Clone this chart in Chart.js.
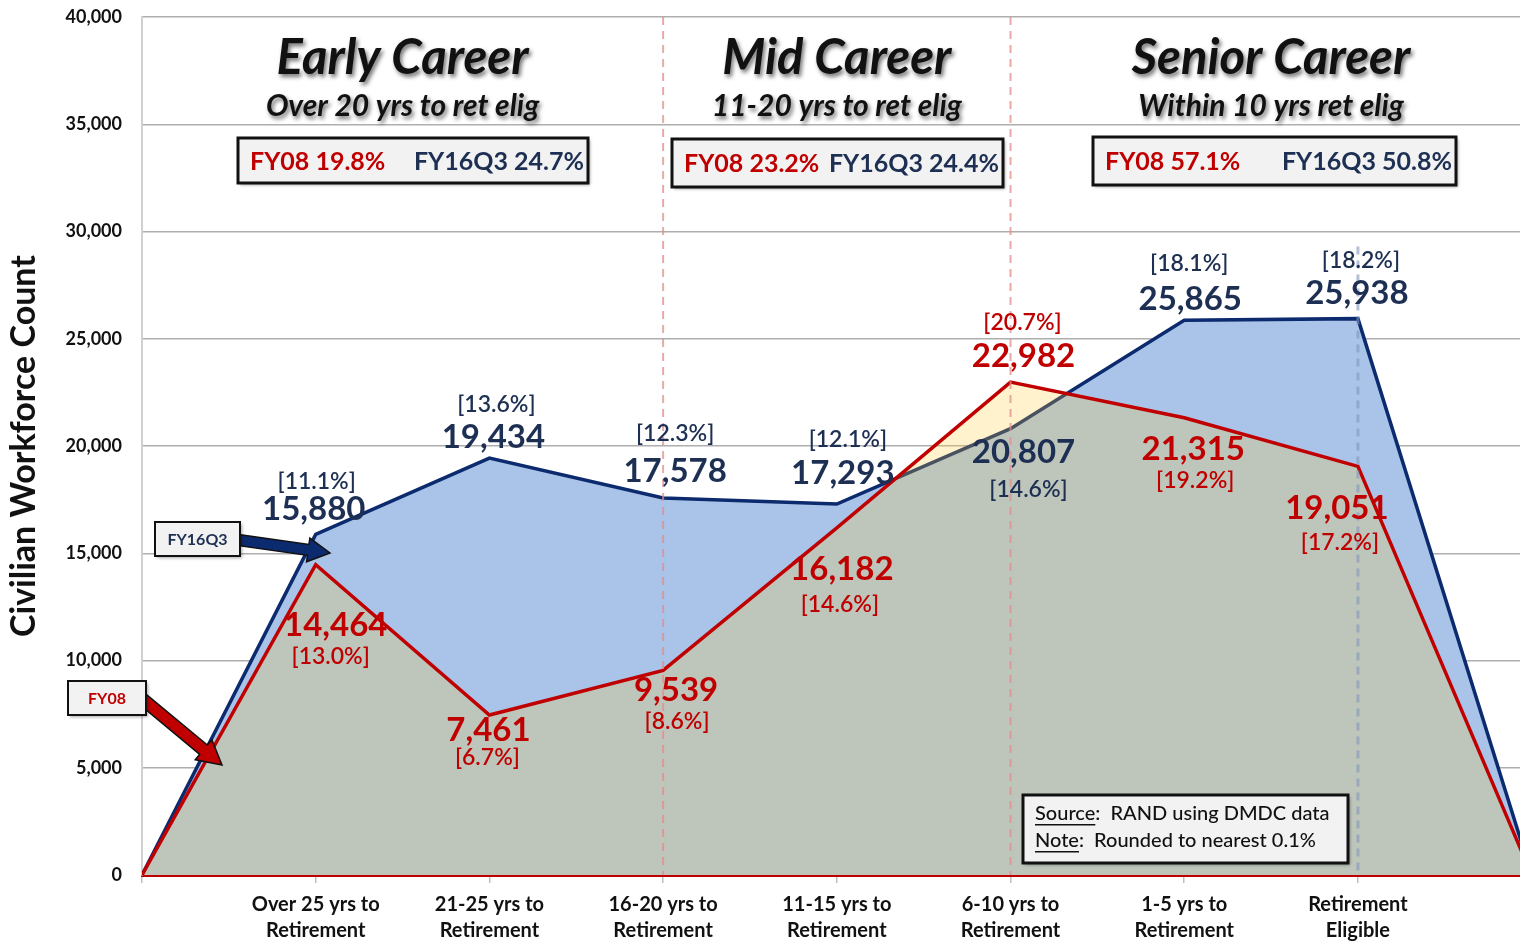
<!DOCTYPE html>
<html>
<head>
<meta charset="utf-8">
<script src="https://cdn.jsdelivr.net/npm/chart.js@4.4.1/dist/chart.umd.min.js"></script>
<style>
  html, body { margin: 0; padding: 0; background: #fff; }
  #wrap { width: 1520px; height: 942px; }
</style>
</head>
<body>
<div id="wrap"><canvas id="workforceChart"></canvas></div>
<script>
// categories on the x axis (positions 1..7), the area starts at 0 and closes at 8
var categories = [
  ['Over 25 yrs to', 'Retirement'],
  ['21-25 yrs to', 'Retirement'],
  ['16-20 yrs to', 'Retirement'],
  ['11-15 yrs to', 'Retirement'],
  ['6-10 yrs to', 'Retirement'],
  ['1-5 yrs to', 'Retirement'],
  ['Retirement', 'Eligible']
];
var positions = [0, 1, 2, 3, 4, 5, 6, 7, 8];
var fy16Values = [0, 15880, 19434, 17578, 17293, 20807, 25865, 25938, 0];
var fy08Values = [0, 14464, 7461, 9539, 16182, 22982, 21315, 19051, 0];
var fy16Pct = ['11.1%', '13.6%', '12.3%', '12.1%', '14.6%', '18.1%', '18.2%'];
var fy08Pct = ['13.0%', '6.7%', '8.6%', '14.6%', '20.7%', '19.2%', '17.2%'];

var groupTitles = ['Early Career', 'Mid Career', 'Senior Career'];
var groupSubtitles = ['Over 20 yrs to ret elig', '11-20 yrs to ret elig', 'Within 10 yrs ret elig'];
var groupFy08 = ['19.8%', '23.2%', '57.1%'];
var groupFy16 = ['24.7%', '24.4%', '50.8%'];

var yTicks = [0, 5000, 10000, 15000, 20000, 25000, 30000, 35000, 40000];

var NAVY = '#0c2a6e';
var NAVY_TEXT = '#1d2f52';
var RED = '#c00000';
var FONT = 'Lato, "Open Sans", sans-serif';

function toPoints(values) {
  return values.map(function (v, i) { return { x: positions[i], y: v }; });
}

// label offsets (px) from each point: [valueDx, valueDy, pctDx, pctDy]
var fy16Offsets = [
  [-2, -25, 1, -53], [4, -21, 7, -54], [12, -27, 12, -64], [6, -31, 11, -64],
  [13, 24, 18, 61], [6, -21, 5, -57], [-1, -25, 3, -58]
];
var fy08Offsets = [
  [20, 61, 15, 92], [-1, 15, -2, 43], [13, 20, 14, 51], [5, 41, 3, 77],
  [13, -26, 12, -59], [9, 32, 11, 63], [-21, 42, -18, 76]
];

function drawBox(ctx, x, y, w, h, lw) {
  ctx.save();
  ctx.shadowColor = 'rgba(0,0,0,0.35)';
  ctx.shadowBlur = 3;
  ctx.shadowOffsetX = 2;
  ctx.shadowOffsetY = 2;
  ctx.fillStyle = '#f2f2f2';
  ctx.fillRect(x, y, w, h);
  ctx.restore();
  ctx.strokeStyle = '#111';
  ctx.lineWidth = lw;
  ctx.strokeRect(x, y, w, h);
}

function drawArrow(ctx, x1, y1, x2, y2, shaft, headW, headL, color) {
  var ang = Math.atan2(y2 - y1, x2 - x1);
  var len = Math.hypot(x2 - x1, y2 - y1);
  ctx.save();
  ctx.translate(x1, y1);
  ctx.rotate(ang);
  ctx.beginPath();
  ctx.moveTo(0, -shaft / 2);
  ctx.lineTo(len - headL, -shaft / 2);
  ctx.lineTo(len - headL, -headW / 2);
  ctx.lineTo(len, 0);
  ctx.lineTo(len - headL, headW / 2);
  ctx.lineTo(len - headL, shaft / 2);
  ctx.lineTo(0, shaft / 2);
  ctx.closePath();
  ctx.fillStyle = color;
  ctx.fill();
  ctx.strokeStyle = '#111';
  ctx.lineWidth = 1.5;
  ctx.stroke();
  ctx.restore();
}

var overlayPlugin = {
  id: 'overlay',
  afterDatasetsDraw: function (chart) {
    var ctx = chart.ctx;
    var xs = chart.scales.x;
    var ys = chart.scales.y;
    var area = chart.chartArea;
    ctx.save();
    // section dividers
    ctx.setLineDash([8, 6]);
    ctx.lineWidth = 2;
    ctx.strokeStyle = 'rgba(226,140,140,0.75)';
    [3, 5].forEach(function (p) {
      var px = xs.getPixelForValue(p);
      ctx.beginPath();
      ctx.moveTo(px, area.top);
      ctx.lineTo(px, area.bottom);
      ctx.stroke();
    });
    ctx.strokeStyle = 'rgba(130,150,185,0.6)';
    ctx.lineWidth = 3;
    var p7 = xs.getPixelForValue(7);
    ctx.beginPath();
    ctx.moveTo(p7, ys.getPixelForValue(29300));
    ctx.lineTo(p7, area.bottom);
    ctx.stroke();
    ctx.restore();
  },
  afterDraw: function (chart) {
    var ctx = chart.ctx;
    var xs = chart.scales.x;
    var ys = chart.scales.y;
    ctx.save();
    ctx.textAlign = 'center';
    ctx.textBaseline = 'middle';

    // group headings
    var groupCenters = [1.5, 4, 6.5];
    var boxes = [[238, 138, 350, 45], [672, 139, 331, 48], [1093, 137, 363, 48]];
    groupTitles.forEach(function (t, i) {
      var cx = xs.getPixelForValue(groupCenters[i]);
      ctx.save();
      ctx.shadowColor = 'rgba(0,0,0,0.55)';
      ctx.shadowBlur = 4;
      ctx.shadowOffsetX = 2;
      ctx.shadowOffsetY = 3;
      ctx.fillStyle = '#111';
      ctx.font = 'italic 700 49px ' + FONT;
      ctx.fillText(t, cx, 58);
      ctx.font = 'italic 700 30px ' + FONT;
      ctx.fillText(groupSubtitles[i], cx, 106);
      ctx.restore();

      var b = boxes[i];
      drawBox(ctx, b[0], b[1], b[2], b[3], 3);
      ctx.font = '700 25px ' + FONT;
      ctx.textAlign = 'left';
      ctx.fillStyle = RED;
      ctx.fillText('FY08 ' + groupFy08[i], b[0] + 12, b[1] + b[3] / 2 + 1);
      ctx.textAlign = 'right';
      ctx.fillStyle = NAVY_TEXT;
      ctx.fillText('FY16Q3 ' + groupFy16[i], b[0] + b[2] - 4, b[1] + b[3] / 2 + 1);
      ctx.textAlign = 'center';
    });

    // point labels
    function drawLabels(values, pcts, offsets, color) {
      for (var i = 1; i <= 7; i++) {
        var px = xs.getPixelForValue(positions[i]);
        var py = ys.getPixelForValue(values[i]);
        var o = offsets[i - 1];
        ctx.fillStyle = color;
        ctx.font = '700 33px ' + FONT;
        ctx.fillText(values[i].toLocaleString('en-US'), px + o[0], py + o[1]);
        ctx.font = '600 23px ' + FONT;
        ctx.fillText('[' + pcts[i - 1] + ']', px + o[2], py + o[3]);
      }
    }
    drawLabels(fy16Values, fy16Pct, fy16Offsets, NAVY_TEXT);
    drawLabels(fy08Values, fy08Pct, fy08Offsets, RED);

    // series callouts
    drawArrow(ctx, 238, 540, 330, 553, 11, 24, 22, NAVY);
    drawBox(ctx, 155, 522, 85, 34, 2);
    ctx.font = '700 16px ' + FONT;
    ctx.fillStyle = NAVY_TEXT;
    ctx.fillText('FY16Q3', 197.5, 540);

    drawArrow(ctx, 140, 697, 222, 765, 12, 26, 24, RED);
    drawBox(ctx, 68, 681, 78, 34, 2);
    ctx.fillStyle = RED;
    ctx.fillText('FY08', 107, 699);

    // source note
    drawBox(ctx, 1023, 795, 325, 68, 3);
    ctx.textAlign = 'left';
    ctx.fillStyle = '#111';
    ctx.font = '500 20px ' + FONT;
    var lines = [['Source', ':  RAND using DMDC data'], ['Note', ':  Rounded to nearest 0.1%']];
    lines.forEach(function (l, i) {
      var y = 814 + i * 27;
      var w = ctx.measureText(l[0]).width;
      ctx.fillText(l[0], 1035, y);
      ctx.fillText(l[1], 1035 + w, y);
      ctx.fillRect(1035, y + 10, w, 1.5);
    });
    ctx.restore();
  }
};

new Chart(document.getElementById('workforceChart'), {
  type: 'line',
  data: {
    datasets: [
      {
        label: 'FY16Q3',
        data: toPoints(fy16Values),
        borderColor: NAVY,
        backgroundColor: '#a9c4e8',
        borderWidth: 3.5,
        fill: 'origin',
        pointRadius: 0,
        tension: 0,
        order: 2
      },
      {
        label: 'FY08',
        data: toPoints(fy08Values),
        borderColor: RED,
        backgroundColor: 'rgba(255,203,51,0.25)',
        borderWidth: 3.5,
        fill: 'origin',
        pointRadius: 0,
        tension: 0,
        order: 1
      }
    ]
  },
  options: {
    responsive: true,
    maintainAspectRatio: false,
    animation: false,
    layout: { padding: { top: 17, right: 0, bottom: 0, left: 0 } },
    plugins: {
      legend: { display: false },
      tooltip: { enabled: false }
    },
    scales: {
      x: {
        type: 'linear',
        min: 0,
        max: 7.933,
        z: 1,
        afterFit: function (scale) { scale.height = 67; },
        grid: { drawOnChartArea: false, tickLength: 8, color: '#bfbfbf', lineWidth: 1.5 },
        border: { color: RED, width: 3 },
        ticks: {
          stepSize: 1,
          includeBounds: false,
          autoSkip: false,
          maxRotation: 0,
          padding: 8,
          color: '#111',
          font: { family: FONT, size: 20, weight: '700', lineHeight: 1.33 },
          callback: function (v) {
            return (Number.isInteger(v) && v >= 1 && v <= 7) ? categories[v - 1] : '';
          }
        }
      },
      y: {
        min: 0,
        max: 40000,
        z: 1,
        afterFit: function (scale) { scale.width = 142; },
        afterBuildTicks: function (scale) {
          scale.ticks = yTicks.map(function (v) { return { value: v }; });
        },
        grid: { color: 'rgba(120,120,120,0.6)', lineWidth: 1.5, drawTicks: true, tickLength: 20, tickColor: 'rgba(0,0,0,0)' },
        border: { color: '#d0d0d0', width: 2 },
        title: {
          display: true,
          text: 'Civilian Workforce Count',
          color: '#111',
          font: { family: FONT, size: 34, weight: '700' },
          padding: { top: 4, bottom: 0 }
        },
        ticks: {
          padding: 0,
          color: '#111',
          font: { family: FONT, size: 18, weight: '700' },
          callback: function (v) { return v.toLocaleString('en-US'); }
        }
      }
    }
  },
  plugins: [overlayPlugin]
});
</script>
</body>
</html>
